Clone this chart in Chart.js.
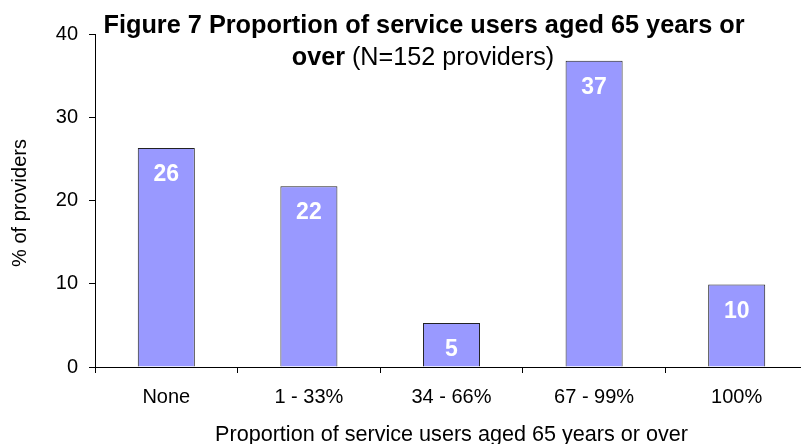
<!DOCTYPE html>
<html><head><meta charset="utf-8">
<script src="https://cdn.jsdelivr.net/npm/chart.js@4"></script>
<style>html,body{margin:0;padding:0;overflow:hidden;background:#fff;width:801px;height:444px}
#wrap{width:810px;height:444px;position:relative}</style>
</head><body>
<div id="wrap"><canvas id="c" width="810" height="444"></canvas></div>
<script>
const categories = ["None", "1 - 33%", "34 - 66%", "67 - 99%", "100%"];
const values = [26.3, 21.7, 5.3, 36.8, 9.9];
const valueLabels = ["26", "22", "5", "37", "10"];
const yTicks = [0, 10, 20, 30, 40];
const titleLine1 = "Figure 7 Proportion of service users aged 65 years or";
const titleLine2Bold = "over";
const titleLine2Normal = " (N=152 providers)";
const xTitle = "Proportion of service users aged 65 years or over";
const yTitle = "% of providers";

const FONT = "'Liberation Sans', Arial, Helvetica, sans-serif";

const overlay = {
  id: 'overlay',
  afterDatasetsDraw(chart) {
    const ctx = chart.ctx;
    const meta = chart.getDatasetMeta(0);
    ctx.save();
    ctx.fillStyle = '#ffffff';
    ctx.font = "bold 23px " + FONT;
    ctx.textAlign = 'center';
    ctx.textBaseline = 'alphabetic';
    meta.data.forEach((bar, i) => {
      ctx.fillText(valueLabels[i], bar.x, bar.y + 33);
    });
    ctx.restore();
  },
  afterDraw(chart) {
    const ctx = chart.ctx;
    const ca = chart.chartArea;
    ctx.save();
    ctx.fillStyle = '#000';
    ctx.textBaseline = 'alphabetic';
    ctx.textAlign = 'center';
    ctx.font = "bold 25.3px " + FONT;
    ctx.fillText(titleLine1, 424, 33);
    ctx.font = "bold 25.2px " + FONT;
    const w1 = ctx.measureText(titleLine2Bold).width;
    ctx.font = "25.2px " + FONT;
    const w2 = ctx.measureText(titleLine2Normal).width;
    const start = 423 - (w1 + w2) / 2;
    ctx.textAlign = 'left';
    ctx.font = "bold 25.2px " + FONT;
    ctx.fillText(titleLine2Bold, start, 65);
    ctx.font = "25.2px " + FONT;
    ctx.fillText(titleLine2Normal, start + w1, 65);
    // x axis title
    ctx.textAlign = 'center';
    ctx.font = "21.6px " + FONT;
    ctx.fillText(xTitle, (ca.left + ca.right) / 2, 441);
    // y axis title
    ctx.translate(26, 203);
    ctx.rotate(-Math.PI / 2);
    ctx.font = "20px " + FONT;
    ctx.fillText(yTitle, 0, 0);
    ctx.restore();
  }
};

new Chart(document.getElementById('c'), {
  type: 'bar',
  data: {
    labels: categories,
    datasets: [{
      data: values,
      backgroundColor: '#9999ff',
      borderColor: '#222222',
      borderWidth: 1,
      barPercentage: 0.8,
      categoryPercentage: 0.5
    }]
  },
  options: {
    responsive: false,
    animation: false,
    devicePixelRatio: 1,
    layout: { padding: { top: 34, right: 2, left: 0, bottom: 0 } },
    plugins: { legend: { display: false }, tooltip: { enabled: false }, title: { display: false } },
    scales: {
      x: {
        afterFit(s) { s.height = 77; },
        grid: { display: true, offset: true, drawOnChartArea: false, drawTicks: true, tickLength: 6, color: '#000', lineWidth: 1 },
        border: { display: true, color: '#000', width: 1 },
        ticks: { color: '#000', font: { family: FONT, size: 20 }, padding: 12, maxRotation: 0 },
        title: { display: false, text: xTitle }
      },
      y: {
        min: 0, max: 40,
        afterFit(s) { s.width = 95; },
        afterBuildTicks(s) { s.ticks = yTicks.map(v => ({ value: v })); },
        grid: { display: true, drawOnChartArea: false, drawTicks: true, tickLength: 6, color: '#000', lineWidth: 1 },
        border: { display: true, color: '#000', width: 1 },
        ticks: { color: '#000', font: { family: FONT, size: 20 }, padding: 11 },
        title: { display: false, text: yTitle }
      }
    }
  },
  plugins: [overlay]
});
</script>
</body></html>
